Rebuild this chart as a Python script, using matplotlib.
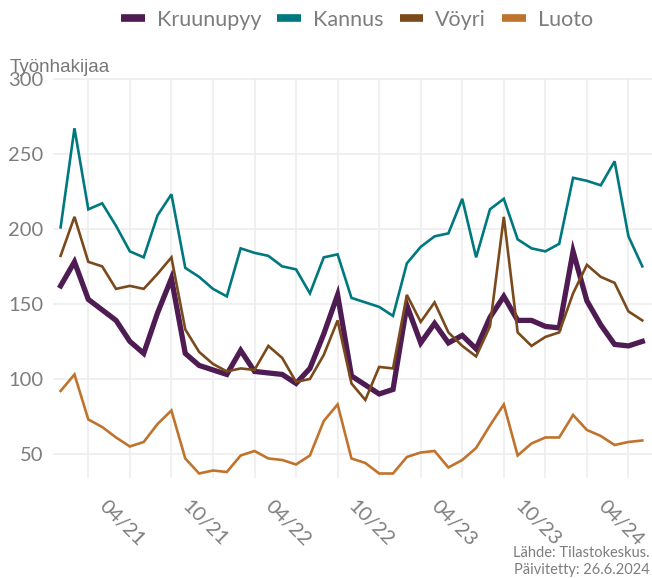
import matplotlib
matplotlib.use("Agg")
import matplotlib.pyplot as plt
from matplotlib.lines import Line2D
import matplotlib.transforms as mtransforms

# Monthly data Nov 2020 .. May 2024 (43 months)
start_year, start_month = 2020, 11
n_months = 43

kruunupyy = [162, 178, 153, 146, 139, 125, 117, 144, 167, 117, 109, 106, 103, 119, 105, 104,
             103, 97, 107, 130, 156, 102, 96, 90, 93, 149, 124, 137, 124, 129, 120, 141,
             155, 139, 139, 135, 134, 185, 152, 136, 123, 122, 125]
kannus = [201, 267, 213, 217, 202, 185, 181, 209, 223, 174, 168, 160, 155, 187, 184, 182,
          175, 173, 157, 181, 183, 154, 151, 148, 142, 177, 188, 195, 197, 220, 181, 213,
          220, 193, 187, 185, 190, 234, 232, 229, 245, 195, 175]
voyri = [182, 208, 178, 175, 160, 162, 160, 170, 181, 133, 118, 110, 105, 107, 106, 122,
         114, 98, 100, 116, 139, 97, 86, 108, 107, 156, 138, 151, 131, 122, 115, 135,
         208, 131, 122, 128, 131, 157, 176, 168, 164, 145, 139]
luoto = [92, 103, 73, 68, 61, 55, 58, 70, 79, 47, 37, 39, 38, 49, 52, 47,
         46, 43, 49, 72, 83, 47, 44, 37, 37, 48, 51, 52, 41, 46, 54, 69,
         83, 49, 57, 61, 61, 76, 66, 62, 56, 58, 59]

series_names = ["Kruunupyy", "Kannus", "Vöyri", "Luoto"]
series_values = [kruunupyy, kannus, voyri, luoto]
series_colors = ["#4e1b52", "#00787f", "#7a4a1c", "#c0732d"]
series_widths = [3.8, 1.9, 1.9, 1.9]

y_ticks = [50, 100, 150, 200, 250, 300]
x_tick_labels = ["04/21", "10/21", "04/22", "10/22", "04/23", "10/23", "04/24"]

# month indices
x = list(range(n_months))
def month_index(label):
    mm, yy = label.split("/")
    return (2000 + int(yy) - start_year) * 12 + int(mm) - start_month
x_ticks = [month_index(l) for l in x_tick_labels]
minor_grid = [i for i in range(n_months) if (i + start_month - 1) % 3 == 0]

W, H = 652, 578
fig = plt.figure(figsize=(W / 100, H / 100), dpi=100)
ax = fig.add_axes([53 / W, 1 - 478 / H, (652 - 53) / W, (478 - 78) / H])

for name, vals, col, lw in zip(series_names, series_values, series_colors, series_widths):
    ax.plot(x, vals, color=col, lw=lw, label=name, solid_joinstyle="miter", zorder=3)

ax.set_xlim(-0.55, n_months - 1 + 0.7)
ax.set_ylim(34, 300.5)

ax.set_yticks(y_ticks)
ax.set_xticks(x_ticks)
ax.set_xticks(minor_grid, minor=True)
ax.grid(True, which="major", color="#ededed", lw=1.2, zorder=0)
ax.grid(True, which="minor", axis="x", color="#ededed", lw=1.2, zorder=0)
for s in ax.spines.values():
    s.set_visible(False)
ax.tick_params(which="both", length=0)
ax.tick_params(axis="y", pad=7, labelsize=14.5, labelcolor="#7d7d7d")
ax.tick_params(axis="x", pad=14, labelsize=14.5, labelcolor="#7d7d7d")
for lab in ax.get_yticklabels():
    lab.set_fontfamily("Lato")
ax.set_xticklabels(x_tick_labels, rotation=-45, ha="center", va="top", family="Lato")
offset = mtransforms.ScaledTranslation(-8 / 100, 0, fig.dpi_scale_trans)
for lab in ax.get_xticklabels():
    lab.set_transform(lab.get_transform() + offset)

fig.text(10 / W, 1 - 67 / H, "Työnhakijaa", family="Liberation Sans", fontsize=13.5,
         color="#777777", ha="left", va="center")

handles = [Line2D([], [], color=c, lw=5.5, solid_capstyle="butt") for c in series_colors]
fig.legend(handles, series_names, loc="center", bbox_to_anchor=(357 / W, 1 - 20 / H),
           ncol=4, frameon=False, handlelength=1.1, handletextpad=0.55, columnspacing=0.75,
           prop={"family": "Lato", "size": 15.5}, labelcolor="#7d7d7d")

fig.text(650 / W, 1 - 553 / H, "Lähde: Tilastokeskus.", family="Lato", fontsize=10.5,
         color="#7d7d7d", ha="right", va="center")
fig.text(650 / W, 1 - 570 / H, "Päivitetty: 26.6.2024", family="Lato", fontsize=10.5,
         color="#7d7d7d", ha="right", va="center")

fig.savefig("out.png", dpi=100)
